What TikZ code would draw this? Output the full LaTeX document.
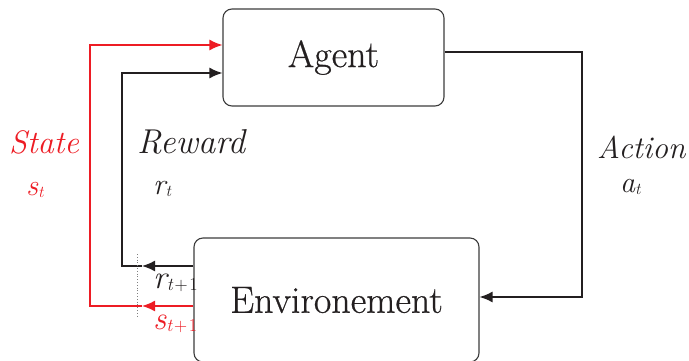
\documentclass[tikz,border=0pt]{standalone}
\usepackage{fontspec}
\usetikzlibrary{arrows.meta}
\newfontfamily\boxfont[FakeBold=0.6]{Latin Modern Roman}
\definecolor{rlred}{RGB}{237,28,36}
\definecolor{rlblack}{RGB}{35,31,32}
\definecolor{boxgray}{RGB}{60,60,60}
\newcommand{\symsub}[3]{{\fontsize{#1}{#1}\selectfont\itshape #2}\raisebox{-0.22em}{\fontsize{0.55\dimexpr #1\relax}{#1}\selectfont #3}}
\tikzset{
  box/.style={draw=boxgray, line width=1.1pt, rounded corners=9pt, fill=white,
    inner sep=0pt, font=\boxfont\fontsize{38}{40}\selectfont, text=rlblack},
  link/.style={line width=1.5pt, rlblack},
  redlink/.style={line width=1.5pt, rlred},
  tip/.style={-{Latex[length=13pt,width=11pt]}},
  lbl/.style={anchor=base west, inner sep=0pt, font=\itshape},
  sym/.style={anchor=base west, inner sep=0pt},
}
\begin{document}
\begin{tikzpicture}[x=1pt,y=-1pt]
\useasboundingbox (0,0) rectangle (689,360);
\clip (0,0) rectangle (689,360);
\node[box, minimum width=221pt, minimum height=97pt] (agent) at (333.5,57.5) {Agent};
\node[box, minimum width=285pt, minimum height=124pt] (env) at (336.5,300) {Environement};

% action loop
\coordinate (a1) at (582,52);
\coordinate (a2) at (582,297);
\draw[link, tip] (agent.east |- a1) -- (a1) -- (a2) -- (env.east |- a2);

% reward loop
\coordinate (rt) at (142,266);
\coordinate (r1) at (122,266);
\coordinate (r2) at (122,73);
\draw[link, tip] (env.west |- rt) -- (rt);
\draw[link, tip] (rt) -- (r1) -- (r2) -- (agent.west |- r2);

% state loop
\coordinate (st) at (142,306);
\coordinate (s1) at (90,306);
\coordinate (s2) at (90,45);
\draw[redlink, tip] (env.west |- st) -- (st);
\draw[redlink, tip] (st) -- (s1) -- (s2) -- (agent.west |- s2);

% dotted marker
\coordinate (d1) at (137,254);
\coordinate (d2) at (137,316);
\draw[gray, line width=0.8pt, dotted] (d1) -- (d2);

% labels
\node[lbl, text=rlred, font=\fontsize{32.5}{34}\selectfont\itshape] (lstate) at (9,153) {State};
\node[lbl, text=rlblack, font=\fontsize{34.5}{36}\selectfont\itshape] (lreward) at (137,153) {Reward};
\node[lbl, text=rlblack, font=\fontsize{31.5}{34}\selectfont\itshape] (laction) at (597,158) {Action};
\node[sym, text=rlred] (lst) at (26,195) {\symsub{30pt}{s}{\itshape t}};
\node[sym, text=rlblack] (lrt) at (153,194) {\symsub{30pt}{r}{\itshape t}};
\node[sym, text=rlblack] (lat) at (620,192) {\symsub{30pt}{a}{\itshape t}};
\node[sym, text=rlblack] (lrt1) at (153,288) {\symsub{33pt}{r}{{\itshape t}\kern0.1em+\kern0.1em1}};
\node[sym, text=rlred] (lst1) at (153,329) {\symsub{33pt}{s}{{\itshape t}\kern0.1em+\kern0.1em1}};
\end{tikzpicture}
\end{document}
